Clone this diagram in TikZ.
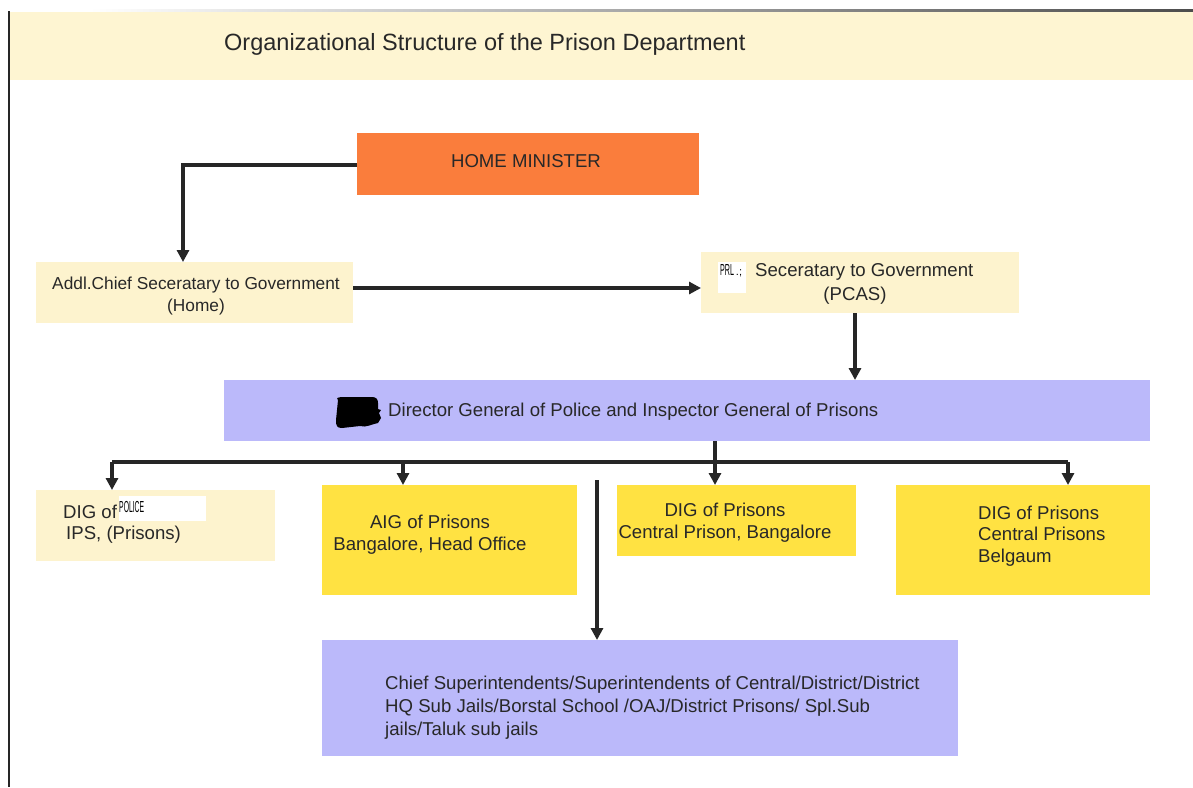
\documentclass[tikz,border=0pt]{standalone}
\usepackage{fontspec}
\setmainfont{Liberation Sans}
\usetikzlibrary{arrows.meta}
\definecolor{bandY}{RGB}{254,245,210}
\definecolor{paleY}{RGB}{253,243,206}
\definecolor{goldY}{RGB}{255,226,66}
\definecolor{lav}{RGB}{187,185,250}
\definecolor{orng}{RGB}{250,125,60}
\definecolor{txt}{RGB}{40,40,40}
\tikzset{
  box/.style={draw=none, inner sep=0pt, anchor=north west},
  lbl/.style={inner sep=0pt, text=txt, font=\fontsize{18.6}{22}\selectfont},
  tiny/.style={inner sep=0pt, anchor=west, text=black, font=\fontsize{11}{11}\selectfont},
  conn/.style={line width=3.2pt, draw=black!85, -{Triangle[length=12pt,width=12pt]}},
  bus/.style={line width=3.2pt, draw=black!85}
}
\begin{document}
\begin{tikzpicture}[x=1pt,y=-1pt]
\useasboundingbox (0,0) rectangle (1193,787);
\fill[white] (0,0) rectangle (1193,787);
% frame
\shade[left color=white, right color=black!70] (90,9) rectangle (1193,12);
\fill[bandY] (10,12) rectangle (1193,80);
\draw[line width=2.5pt, black!85] (9,11) -- (9,787);
\node[anchor=west, inner sep=0pt, text=txt, font=\fontsize{23.5}{26}\selectfont] (title) at (224,44) {Organizational Structure of the Prison Department};
% boxes
\node[box, fill=orng, minimum width=342pt, minimum height=62pt] (hm) at (357,133) {};
\node[box, fill=paleY, minimum width=317pt, minimum height=61pt] (acs) at (36,262) {};
\node[box, fill=paleY, minimum width=318pt, minimum height=61pt] (ps) at (701,252) {};
\node[box, fill=lav, minimum width=926pt, minimum height=61pt] (dg) at (224,380) {};
\node[box, fill=paleY, minimum width=239pt, minimum height=71pt] (dip) at (36,490) {};
\node[box, fill=goldY, minimum width=255pt, minimum height=110pt] (aig) at (322,485) {};
\node[box, fill=goldY, minimum width=239pt, minimum height=71pt] (dcb) at (617,485) {};
\node[box, fill=goldY, minimum width=254pt, minimum height=110pt] (dbl) at (896,485) {};
\node[box, fill=lav, minimum width=636pt, minimum height=116pt] (cs) at (322,640) {};
% texts
\node[lbl] (hmt) at (526,161) {HOME MINISTER};
\node[lbl, align=center, font=\fontsize{17.3}{22}\selectfont] (acst) at (196,296) {Addl.Chief Seceratary to Government\\(Home)};
\fill[white] (718,262) rectangle (746,293);
\node[tiny] (prl) at (720,271) {\scalebox{0.65}[1.45]{PRL}\,.;};
\node[lbl, anchor=west] (pst1) at (755,272) {Seceratary to Government};
\node[lbl] (pst2) at (855,296) {(PCAS)};
\fill[black] (338,400) .. controls (336,398) and (337,397) .. (345,397) -- (372,397) .. controls (376,397) and (378,399) .. (378,403) -- (378,409) -- (381,410) -- (379,413) -- (381,418) -- (378,423) .. controls (372,424) and (366,428) .. (360,426) -- (342,428) .. controls (337,428) and (336,426) .. (336,420) -- cycle;
\node[lbl, anchor=west] (dgt) at (388,412) {Director General of Police and Inspector General of Prisons};
\node[lbl, anchor=west] (dipt1) at (63,512) {DIG of};
\fill[white] (119,496) rectangle (206,521);
\node[tiny] (pol) at (119,507) {\scalebox{0.62}[1.45]{POLICE}};
\node[lbl, anchor=west] (dipt2) at (66,535) {IPS, (Prisons)};
\node[lbl, align=center] (aigt) at (430,535) {AIG of Prisons\\Bangalore, Head Office};
\node[lbl, align=center] (dcbt) at (725,523) {DIG of Prisons\\Central Prison, Bangalore};
\node[lbl, align=left, anchor=north west, font=\fontsize{18.6}{21.3}\selectfont] (dblt) at (978,506) {DIG of Prisons\\Central Prisons\\Belgaum};
\node[lbl, align=left, anchor=north west, font=\fontsize{18.6}{23}\selectfont] (cst) at (385,676) {Chief Superintendents/Superintendents of Central/District/District\\HQ Sub Jails/Borstal School /OAJ/District Prisons/ Spl.Sub\\jails/Taluk sub jails};
% connectors
\coordinate (hmL) at (hm.west |- 0,165);
\draw[conn] (hmL) -| (acs.north -| 183,0);
\draw[conn] (acs.east |- 0,288) -- (ps.west |- 0,288);
\draw[conn] (ps.south -| 855,0) -- (dg.north -| 855,0);
\coordinate (busL) at (112,462);
\coordinate (busR) at (1068,462);
\coordinate (busM) at (715,462);
\draw[bus] (dg.south -| busM) -- (busM);
\draw[bus] (busL) -- (busR);
\draw[conn] (busL) -- (dip.north -| busL);
\draw[conn] (403,461) -- (aig.north -| 403,0);
\draw[conn] (busM) -- (dcb.north -| busM);
\draw[conn] (busR) -- (dbl.north -| busR);
\coordinate (csTop) at (597,480);
\draw[conn] (csTop) -- (cs.north -| csTop);
\end{tikzpicture}
\end{document}
